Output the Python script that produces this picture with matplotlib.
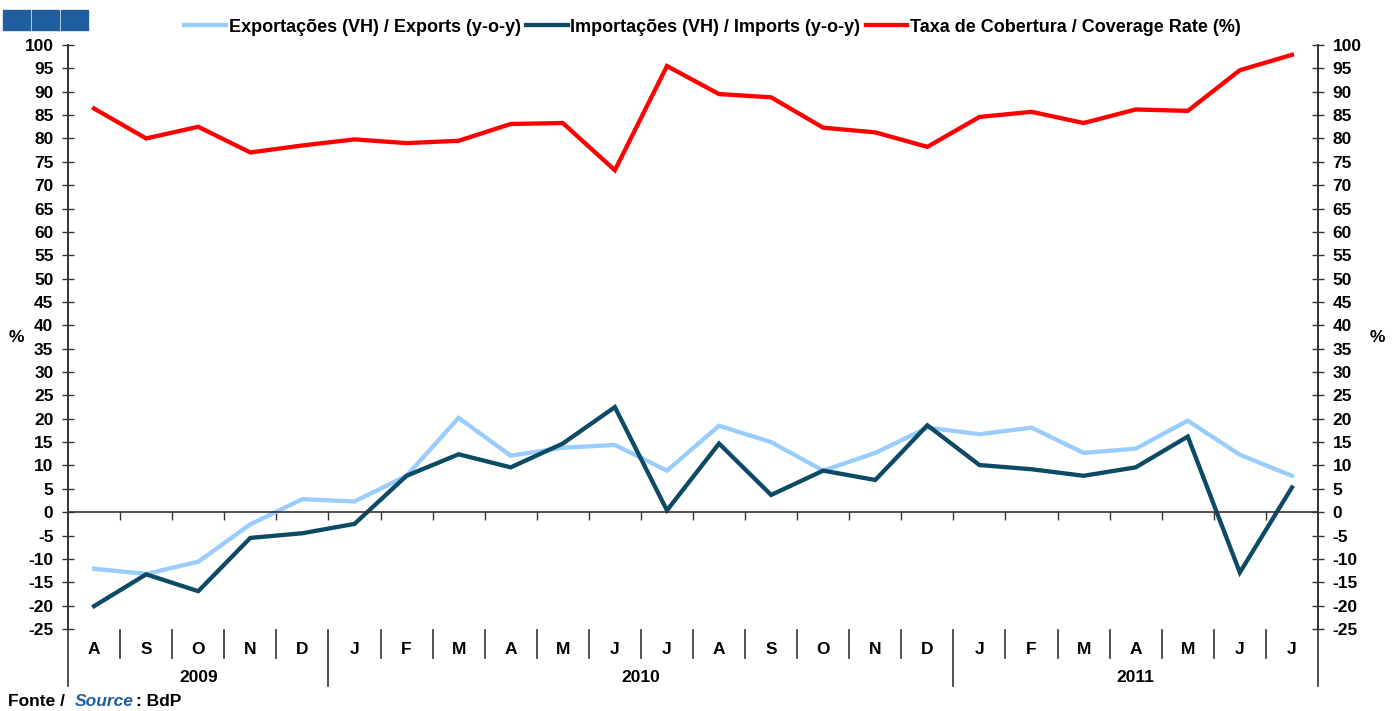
import matplotlib
matplotlib.use("Agg")
import matplotlib.pyplot as plt
from matplotlib.patches import Rectangle
from matplotlib.transforms import blended_transform_factory

plt.rcParams['font.family'] = ['Liberation Sans', 'DejaVu Sans']
plt.rcParams['axes.unicode_minus'] = False

# data: Aug 2009 .. Jul 2011
months = ["A", "S", "O", "N", "D",
          "J", "F", "M", "A", "M", "J", "J", "A", "S", "O", "N", "D",
          "J", "F", "M", "A", "M", "J", "J"]
years = ["2009", "2010", "2011"]
year_counts = [5, 12, 7]

exports = [-12.1, -13.2, -10.6, -2.6, 2.8, 2.3, 7.8, 20.2, 12.1, 13.8, 14.4, 8.9,
           18.5, 15.0, 8.9, 12.7, 18.1, 16.7, 18.1, 12.7, 13.6, 19.6, 12.3, 7.8]
imports = [-20.1, -13.3, -16.9, -5.5, -4.5, -2.5, 7.8, 12.4, 9.6, 14.7, 22.5, 0.4,
           14.7, 3.7, 8.9, 6.9, 18.6, 10.1, 9.2, 7.8, 9.6, 16.2, -12.9, 5.3]
coverage = [86.4, 80.0, 82.5, 77.0, 78.5, 79.8, 79.0, 79.5, 83.1, 83.3, 73.2, 95.5,
            89.5, 88.8, 82.3, 81.3, 78.2, 84.6, 85.7, 83.3, 86.2, 85.9, 94.6, 97.9]

labels = ["Exportações (VH) / Exports (y-o-y)",
          "Importações (VH) / Imports (y-o-y)",
          "Taxa de Cobertura / Coverage Rate (%)"]
colors = ["#99CCFF", "#0D4A66", "#FF0000"]

fig = plt.figure(figsize=(14, 7.11), dpi=100)
ax = fig.add_axes([0.0486, 0.1153, 0.8928, 0.8214])

x = list(range(len(months)))
for series, lab, col in zip([exports, imports, coverage], labels, colors):
    ax.plot(x, series, color=col, lw=3.1, label=lab, solid_joinstyle='miter')

ax.set_xlim(-0.5, len(months) - 0.5)
ax.set_ylim(-25, 100)
ax.set_yticks(range(-25, 101, 5))
ax.tick_params(axis='y', direction='inout', length=9, width=1, colors='#333333',
               labelcolor='black', labelsize=12.5, pad=6)
for t in ax.get_yticklabels():
    t.set_fontweight('bold')

# right axis mirrors left
ax2 = ax.twinx()
ax2.set_ylim(ax.get_ylim())
ax2.set_yticks(range(-25, 101, 5))
ax2.tick_params(axis='y', direction='inout', length=9, width=1, colors='#333333',
                labelcolor='black', labelsize=12.5, pad=6)
for t in ax2.get_yticklabels():
    t.set_fontweight('bold')

for a in (ax, ax2):
    a.spines['top'].set_visible(False)
    for s in ('left', 'right'):
        a.spines[s].set_color('#333333')
        a.spines[s].set_linewidth(1.2)
ax2.spines['bottom'].set_visible(False)

# zero line as x axis with ticks at category boundaries
ax.spines['bottom'].set_position(('data', 0))
ax.spines['bottom'].set_color('#333333')
ax.spines['bottom'].set_linewidth(1.2)
ax.set_xticks([i + 0.5 for i in range(len(months) - 1)])
ax.set_xticklabels([])
ax.tick_params(axis='x', direction='out', length=6, width=1, colors='#333333')

# category axis below the plot
tr = blended_transform_factory(ax.transData, ax.transAxes)
for i, m in enumerate(months):
    ax.text(i, -0.035, m, transform=tr, ha='center', va='center',
            fontsize=12.5, fontweight='bold')
year_edges = [sum(year_counts[:k]) - 0.5 for k in range(1, len(year_counts))]
for i in range(len(months) - 1):
    b = i + 0.5
    y_end = -0.098 if b in year_edges else -0.05
    ax.plot([b, b], [-0.002, y_end], transform=tr, color='#333333', lw=1.2, clip_on=False)
for b in (-0.5, len(months) - 0.5):
    ax.plot([b, b], [0, -0.098], transform=tr, color='#333333', lw=1.2, clip_on=False)
start = 0
for yr, n in zip(years, year_counts):
    ax.text(start + (n - 1) / 2, -0.083, yr, transform=tr, ha='center', va='center',
            fontsize=12.5, fontweight='bold')
    start += n

fig.text(0.012, 0.525, "%", ha='center', va='center', fontsize=12.5, fontweight='bold')
fig.text(0.984, 0.525, "%", ha='center', va='center', fontsize=12.5, fontweight='bold')

leg = fig.legend(loc='center', bbox_to_anchor=(0.509, 0.962), ncol=3, frameon=False,
                 prop={'size': 13, 'weight': 'bold'},
                 handlelength=2.3, handletextpad=0.15, columnspacing=0.3)

# logo squares
for k in range(3):
    fig.patches.append(Rectangle((0.002 + k * 0.0207, 0.958), 0.0195, 0.028,
                                 transform=fig.transFigure, color='#1F5FA0'))

fig.text(0.006, 0.003, "Fonte / ", fontsize=12.5, fontweight='bold', va='bottom')
fig.text(0.0535, 0.003, "Source", fontsize=12.5, fontweight='bold', style='italic',
         color='#1F5FA0', va='bottom')
fig.text(0.097, 0.003, ": BdP", fontsize=12.5, fontweight='bold', va='bottom')

fig.savefig("out.png", dpi=100)
